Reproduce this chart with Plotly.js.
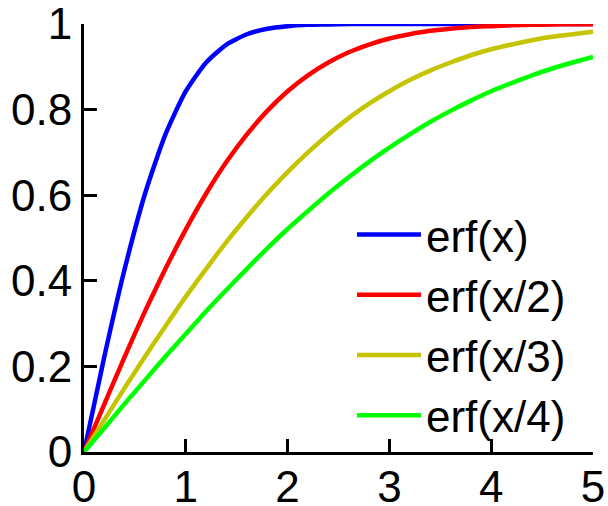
<!DOCTYPE html>
<html><head><meta charset="utf-8">
<script src="https://cdn.plot.ly/plotly-3.0.1.min.js"></script>
<style>html,body{margin:0;padding:0;background:#fff}#c{width:608px;height:506px}</style>
</head><body><div id="c"></div>
<script>
var xs = [0,0.2,0.4,0.6,0.8,1.0,1.2,1.4,1.6,1.8,2.0,2.2,2.4,2.6,2.8,3.0,3.2,3.4,3.6,3.8,4.0,4.2,4.4,4.6,4.8,5.0];
var erf1 = [0,0.223,0.428,0.604,0.742,0.843,0.910,0.952,0.976,0.989,0.995,0.998,0.999,1,1,1,1,1,1,1,1,1,1,1,1,1];
var erf2 = [0,0.112,0.223,0.329,0.428,0.520,0.604,0.678,0.742,0.797,0.843,0.880,0.910,0.934,0.952,0.966,0.976,0.984,0.989,0.993,0.995,0.997,0.998,0.999,0.9993,0.9996];
var erf3 = [0,0.075,0.150,0.223,0.294,0.363,0.428,0.491,0.549,0.604,0.654,0.700,0.742,0.780,0.814,0.843,0.869,0.891,0.910,0.927,0.941,0.952,0.962,0.970,0.976,0.982];
var erf4 = [0,0.056,0.113,0.168,0.223,0.276,0.329,0.379,0.428,0.476,0.521,0.563,0.604,0.642,0.678,0.711,0.742,0.771,0.797,0.821,0.843,0.862,0.880,0.896,0.910,0.923];
var names = ["erf(x)","erf(x/2)","erf(x/3)","erf(x/4)"];
var colors = ["#0000ff","#ff0000","#c4c400","#00ff00"];
var ys = [erf1,erf2,erf3,erf4];
var traces = ys.map(function(y,i){return {x:xs,y:y,name:names[i],mode:"lines",type:"scatter",cliponaxis:false,line:{color:colors[i],width:4.5,shape:"spline",smoothing:0.6}};});
var ax = {showgrid:false,zeroline:false,showline:true,linecolor:"#000",linewidth:3,ticks:"inside",ticklen:13,tickwidth:3,tickcolor:"#000",ticklabeloverflow:"allow",tickfont:{family:"Liberation Sans, Arial",size:44,color:"#000"},fixedrange:true};
var layout = {
  width:608,height:506,margin:{l:84,r:15,t:24,b:54},
  paper_bgcolor:"#fff",plot_bgcolor:"#fff",
  xaxis:Object.assign({},ax,{range:[0,5],tickvals:[0,1,2,3,4,5],ticktext:["0","1","2","3","4","5"],ticklabelstandoff:-6}),
  yaxis:Object.assign({},ax,{range:[0,1],tickvals:[0,0.2,0.4,0.6,0.8,1],ticktext:["0","0.2","0.4","0.6","0.8","1"],ticklabelstandoff:0}),
  showlegend:true,
  legend:{x:0.5265,y:0.59,xanchor:"left",yanchor:"top",itemwidth:64,bgcolor:"rgba(0,0,0,0)",font:{family:"Liberation Sans, Arial",size:44,color:"#000"}}
};
Plotly.newPlot("c",traces,layout,{displayModeBar:false,staticPlot:true});
</script></body></html>
